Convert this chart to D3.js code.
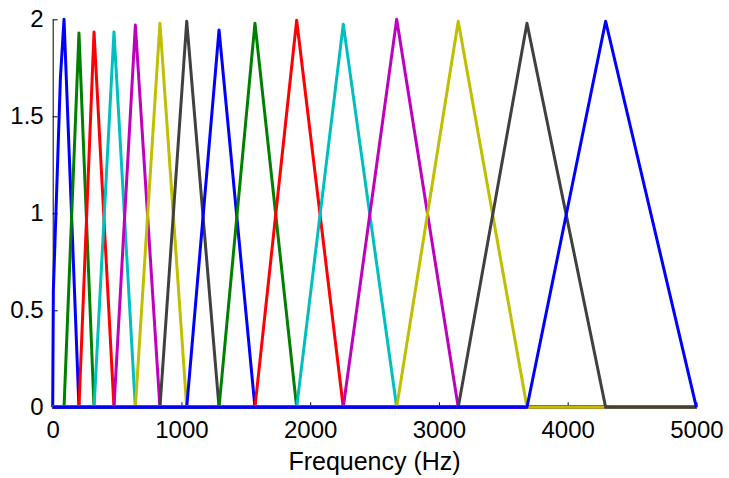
<!DOCTYPE html>
<html>
<head>
<meta charset="utf-8">
<script src="https://cdn.jsdelivr.net/npm/d3@7"></script>
<style>
  body { margin: 0; background: #fff; }
  svg text { font-family: "Liberation Sans", Arial, Helvetica, sans-serif; fill: #000; }
</style>
</head>
<body>
<div id="vis"></div>
<script>
const width = 729;
const height = 478;

// filter peak frequencies (Hz) and peak heights
const centers = [88, 204, 321, 476, 642, 833, 1041, 1292, 1571, 1895, 2257, 2672, 3150, 3684, 4295];
const peaks = [2.0, 1.93, 1.935, 1.935, 1.97, 1.98, 1.99, 1.945, 1.98, 1.995, 1.975, 2.0, 1.99, 1.98, 1.99];
// the first filter rises steeply right at 0 Hz
const firstRise = [[0, 0], [5, 0.6], [60, 1.7]];
const xTicks = [0, 1000, 2000, 3000, 4000, 5000];
const yTicks = [0, 0.5, 1, 1.5, 2];
const colors = ["#0000ff", "#008000", "#ff0000", "#00bfbf", "#bf00bf", "#bfbf00", "#404040"];

let svg = d3.select("#vis")
    .append("svg")
    .attr("width", width)
    .attr("height", height);

//scales
const xScale = d3.scaleLinear().domain([0, 5000]).range([52.7, 696.4]);
const yScale = d3.scaleLinear().domain([0, 2]).range([407.3, 19.3]);

//axes (ticks point inward)
svg.append("g")
    .attr("transform", "translate(0," + yScale(0) + ")")
    .call(d3.axisBottom(xScale).tickValues(xTicks).tickFormat(d3.format("d"))
        .tickSize(-5).tickSizeOuter(0).tickPadding(14))
    .call(g => g.selectAll("text").style("font-size", "24px"));

svg.append("g")
    .attr("transform", "translate(" + xScale(0) + ",0)")
    .call(d3.axisLeft(yScale).tickValues(yTicks).tickFormat(d => d)
        .tickSize(-5).tickSizeOuter(0).tickPadding(9))
    .call(g => g.selectAll("text").style("font-size", "24px"));

svg.selectAll(".domain").attr("stroke", "#000");

//build the filter outlines
const filters = centers.map((c, i) => {
    const left = i === 0 ? 0 : centers[i - 1];
    const right = i === centers.length - 1 ? 5000 : centers[i + 1];
    let pts = [];
    if (i === 0) {
        pts = firstRise.slice();
    } else {
        pts.push([0, 0], [left, 0]);
    }
    pts.push([c, peaks[i]], [right, 0]);
    if (right < 5000) pts.push([5000, 0]);
    return { pts: pts, color: colors[i % colors.length] };
});

const line = d3.line()
    .x(d => xScale(d[0]))
    .y(d => yScale(d[1]));

svg.selectAll(".filter")
    .data(filters)
    .enter()
    .append("path")
    .attr("class", "filter")
    .attr("d", d => line(d.pts))
    .attr("fill", "none")
    .attr("stroke", d => d.color)
    .attr("stroke-width", 3)
    .attr("stroke-linejoin", "round");

//x label
svg.append("text")
    .attr("x", (xScale(0) + xScale(5000)) / 2)
    .attr("y", 470)
    .attr("text-anchor", "middle")
    .style("font-size", "25px")
    .text("Frequency (Hz)");
</script>
</body>
</html>
